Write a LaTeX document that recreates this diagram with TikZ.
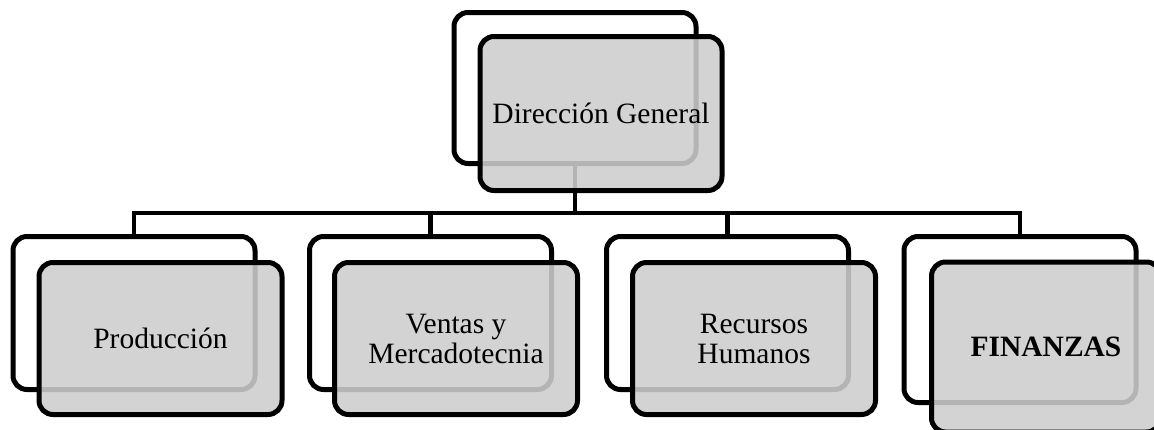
\documentclass[tikz,border=0pt]{standalone}
\usepackage{fontspec}
\setmainfont{Liberation Serif}
\definecolor{boxgray}{RGB}{205,205,205}
\begin{document}
\begin{tikzpicture}[x=1pt,y=-1pt,
  back/.style={draw=black, line width=5pt, fill=white, rounded corners=14pt,
    minimum width=242pt, minimum height=153pt, inner sep=0pt, outer sep=0pt},
  front/.style={draw=black, line width=5pt, fill=boxgray, fill opacity=0.88,
    text opacity=1, rounded corners=14pt, minimum width=243pt, minimum height=152pt,
    inner sep=0pt, outer sep=0pt, align=center, font=\fontsize{29.5}{30}\selectfont},
  link/.style={draw=black, line width=4.5pt}]
\useasboundingbox (0,0) rectangle (1154,429);
\fill[white] (0,0) rectangle (1154,429);
\clip (0,0) rectangle (1154,429);
% back boxes
\node[back, minimum height=151pt] (w0) at (575,88) {};
\node[back] (w1) at (134,313) {};
\node[back] (w2) at (430.5,313) {};
\node[back] (w3) at (727.5,313) {};
\node[back, minimum width=232pt, minimum height=166pt] (w4) at (1020,319.5) {};
% connectors
\coordinate (busy) at (0,213);
\draw[link] (w0.south) -- (w0.south |- busy);
\draw[link] (w1.north) -- (w1.north |- busy) -| (w4.north);
\draw[link] (w2.north) -- (w2.north |- busy);
\draw[link] (w3.north) -- (w3.north |- busy);
% front boxes
\node[front, minimum width=242pt, minimum height=154pt] (g0) at (601,113.5) {Dirección General};
\node[front] (g1) at (160.5,338.5) {Producción};
\node[front] (g2) at (456,338.5) {Ventas y\\Mercadotecnia};
\node[front] (g3) at (754,338.5) {Recursos\\Humanos};
\node[front, minimum width=229pt, minimum height=170pt] (g4) at (1046,347) {\textbf{FINANZAS}};
\end{tikzpicture}
\end{document}
